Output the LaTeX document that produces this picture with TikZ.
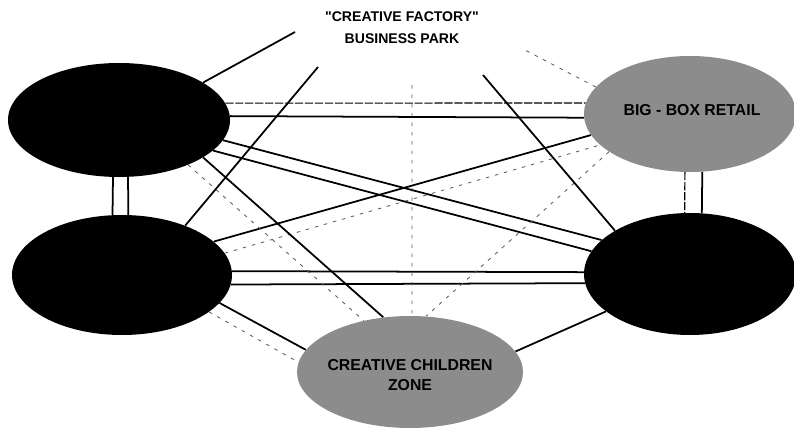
\documentclass[tikz,border=0pt]{standalone}
\usepackage{fontspec}
\setmainfont{Liberation Sans}
\usetikzlibrary{shapes.geometric,backgrounds}

\begin{document}
\begin{tikzpicture}[x=0.03cm, y=-0.03cm,
    hub/.style={ellipse, fill=black, inner sep=0pt},
    zone/.style={ellipse, fill=black!45, inner sep=0pt},
    lbl/.style={font=\bfseries, align=center, inner sep=0pt},
    link/.style={line width=1.5pt},
    semi/.style={line width=1pt, dash pattern=on 7pt off 1.5pt},
    faint/.style={line width=0.7pt, black!65, dash pattern=on 3pt off 5pt}]
    \useasboundingbox (0,0) rectangle (794,430);

    % 区域
    \node[hub, minimum width=6.66cm, minimum height=3.42cm] (nw) at (119,120) {};
    \node[hub, minimum width=6.6cm, minimum height=3.6cm] (sw) at (122,275) {};
    \node[hub, minimum width=6.36cm, minimum height=3.66cm] (se) at (690,274) {};
    \node[zone, minimum width=6.36cm, minimum height=3.48cm] (bigbox) at (690,114) {};
    \node[zone, minimum width=6.78cm, minimum height=3.36cm] (kids) at (410,372) {};

    % 文字
    \node[lbl, font=\bfseries\fontsize{12}{18.5}\selectfont] (park) at (402,28)
        {\textquotedbl CREATIVE FACTORY\textquotedbl\\BUSINESS PARK};
    \node[lbl, font=\bfseries\fontsize{13.5}{16}\selectfont] (bigboxtext) at (692,110)
        {BIG - BOX RETAIL};
    \node[lbl, font=\bfseries\fontsize{13.5}{17}\selectfont] (kidstext) at (410,375)
        {CREATIVE CHILDREN\\ZONE};

    % 商务园的连线端点
    \coordinate (p1) at (295,32);
    \coordinate (p2) at (318,67);
    \coordinate (p3) at (483,75);
    \coordinate (p4) at (525,50);
    \coordinate (p5) at (412,85);

    \begin{scope}[on background layer]
        % 双线
        \draw[semi] (nw.9) -- (bigbox.174);
        \draw[link] (nw.2) -- (bigbox.182);
        \draw[link] (nw.-96) -- (sw.99);
        \draw[link] (nw.-81) -- (sw.84);
        \draw[semi] (bigbox.-95) -- (se.95);
        \draw[link] (bigbox.-78) -- (se.79);
        \draw[link] (sw.2) -- (se.179);
        \draw[link] (sw.-5) -- (se.185);

        % 斜线
        \draw[link] (nw.-11) -- (se.159);
        \draw[link] (nw.-18) -- (se.167);
        \draw[link] (sw.20) -- (bigbox.192);
        \draw[faint] (sw.12) -- (bigbox.199);
        \draw[link] (nw.-24) -- (kids.116);
        \draw[faint] (nw.-33) -- (kids.132);
        \draw[link] (sw.-16) -- (kids.168);
        \draw[faint] (sw.-23) -- (kids.175);
        \draw[faint] (bigbox.205) -- (kids.74);
        \draw[link] (se.204) -- (kids.11);

        % 商务园
        \draw[link] (nw.24) -- (p1);
        \draw[link] (sw.38) -- (p2);
        \draw[link] (se.150) -- (p3);
        \draw[faint] (bigbox.164) -- (p4);
        \draw[faint] (p5) -- (kids.88);
    \end{scope}
\end{tikzpicture}
\end{document}
